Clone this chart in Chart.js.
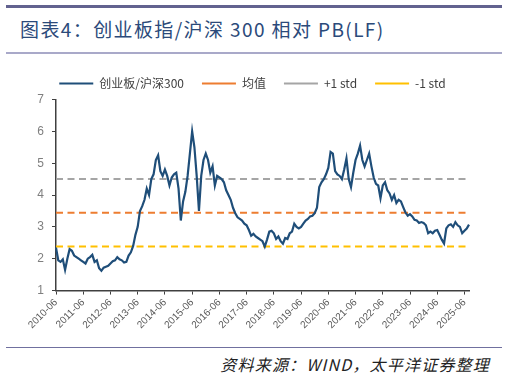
<!DOCTYPE html>
<html>
<head>
<meta charset="utf-8">
<script src="https://cdn.jsdelivr.net/npm/chart.js@4.4.1/dist/chart.umd.min.js"></script>
<style>
  html, body { margin: 0; padding: 0; background: #fff; }
  #page { position: relative; width: 507px; height: 375px; overflow: hidden; font-family: 'Noto Sans CJK SC', sans-serif; }
  .rule-top { position: absolute; left: 6px; top: 5px; width: 496px; height: 2.5px; background: #62628f; }
  .title { position: absolute; left: 20px; top: 15px; font-size: 19px; color: #2b4a7a; letter-spacing: 1.4px; white-space: nowrap; }
  .rule-mid { position: absolute; left: 6px; top: 52px; width: 496px; height: 1.5px; background: #a9a9c9; }
  .rule-bot { position: absolute; left: 6px; top: 347px; width: 496px; height: 1px; background: #70709f; }
  .source { position: absolute; right: 17px; top: 352px; font-size: 16px; font-style: italic; color: #222; letter-spacing: 1.2px; white-space: nowrap; }
  #chart { position: absolute; left: 0; top: 55px; }
</style>
</head>
<body>
<div id="page">
  <div class="rule-top"></div>
  <div class="title">图表4：创业板指/沪深 300 相对 PB(LF)</div>
  <div class="rule-mid"></div>
  <canvas id="chart" width="507" height="288"></canvas>
  <div class="rule-bot"></div>
  <div class="source">资料来源：WIND，太平洋证券整理</div>
</div>
<script>
// ── Data ─────────────────────────────────────────
const START_YEAR = 2010, START_MONTH = 6, N_MONTHS = 183;   // 2010-06 .. 2025-08
const months = [];
for (let i = 0; i < N_MONTHS; i++) {
  const m = START_MONTH - 1 + i;
  months.push((START_YEAR + Math.floor(m / 12)) + '-' + String(m % 12 + 1).padStart(2, '0'));
}

// 创业板指 / 沪深300 relative PB, monthly, each row starts at June
const relPB = [
  2.35, 1.95, 1.90, 1.98, 1.65, 2.00, 2.30, 2.25, 2.10, 2.05, 2.00, 1.95, // 2010-06
  1.90, 1.85, 2.00, 2.05, 2.12, 1.90, 1.95, 1.70, 1.62, 1.72, 1.75, 1.78, // 2011-06
  1.85, 1.92, 1.95, 2.05, 1.98, 1.95, 1.88, 1.90, 2.10, 2.20, 2.40, 2.75, // 2012-06
  3.00, 3.50, 3.65, 3.85, 4.20, 4.00, 4.50, 4.65, 5.10, 5.25, 4.75, 4.60, // 2013-06
  4.80, 4.60, 4.30, 4.55, 4.65, 4.70, 4.20, 3.20, 3.80, 4.10, 4.60, 5.30, // 2014-06
  6.00, 5.50, 4.60, 3.50, 4.60, 5.10, 5.30, 5.10, 4.70, 4.90, 4.30, 4.60, // 2015-06
  4.55, 4.50, 4.40, 4.15, 4.00, 3.85, 3.60, 3.43, 3.30, 3.25, 3.20, 3.10, // 2016-06
  3.05, 2.90, 2.72, 2.78, 2.70, 2.65, 2.60, 2.55, 2.38, 2.60, 2.85, 2.88, // 2017-06
  2.80, 2.62, 2.70, 2.55, 2.47, 2.65, 2.62, 2.80, 2.85, 3.10, 3.00, 2.95, // 2018-06
  3.00, 3.10, 3.20, 3.25, 3.33, 3.35, 3.43, 3.60, 4.25, 4.40, 4.50, 4.65, // 2019-06
  4.85, 5.35, 5.30, 4.75, 4.65, 4.60, 4.50, 4.80, 5.15, 4.50, 4.25, 4.70, // 2020-06
  5.10, 5.30, 5.55, 5.10, 4.90, 5.10, 5.30, 4.90, 4.55, 4.35, 4.30, 3.90, // 2021-06
  4.30, 4.40, 4.15, 4.05, 3.85, 4.00, 3.75, 3.85, 3.80, 3.62, 3.45, 3.35, // 2022-06
  3.40, 3.33, 3.22, 3.20, 3.12, 3.15, 3.12, 3.05, 2.80, 2.85, 2.80, 2.88, // 2023-06
  2.90, 2.75, 2.60, 2.48, 2.95, 3.05, 3.08, 3.00, 3.15, 3.05, 3.00, 2.80, // 2024-06
  2.88, 2.95, 3.07                                                          // 2025-06
];

const MEAN = 3.44;
const PLUS_STD = 4.50;
const MINUS_STD = 2.38;

const seriesLabels = ['创业板/沪深300', '均值', '+1 std', '-1 std'];
const yTicks = [1, 2, 3, 4, 5, 6, 7];

const COLORS = {
  series: '#1f4e79',
  mean:   '#ed7d31',
  plus:   '#a5a5a5',
  minus:  '#ffc000',
  axis:   '#404040',
};

// ── Chart ────────────────────────────────────────
function flatLine(label, value, color) {
  return {
    label,
    data: [{ x: months[0], y: value }, { x: months[months.length - 1], y: value }],
    borderColor: color,
    backgroundColor: color,
    borderWidth: 2,
    borderDash: [7, 4.5],
    pointRadius: 0,
    fill: false,
  };
}

function initChart() {
  const ctx = document.getElementById('chart');
  return new Chart(ctx, {
    type: 'line',
    data: {
      labels: months,
      datasets: [
        {
          label: seriesLabels[0],
          data: relPB,
          borderColor: COLORS.series,
          backgroundColor: COLORS.series,
          borderWidth: 2.2,
          pointRadius: 0,
          tension: 0,
          fill: false,
        },
        flatLine(seriesLabels[1], MEAN, COLORS.mean),
        flatLine(seriesLabels[2], PLUS_STD, COLORS.plus),
        flatLine(seriesLabels[3], MINUS_STD, COLORS.minus),
      ]
    },
    options: {
      responsive: false,
      animation: false,
      layout: { padding: { left: 36, right: 38, top: 4.5, bottom: 10 } },
      plugins: {
        tooltip: { enabled: false },
        legend: {
          position: 'top',
          align: 'center',
          labels: {
            usePointStyle: true,
            pointStyle: 'line',
            pointStyleWidth: 34,
            padding: 18,
            color: '#404040',
            font: { size: 12, family: "'Noto Sans CJK SC', sans-serif" }
          }
        }
      },
      scales: {
        x: {
          type: 'category',
          offset: false,
          grid: { drawOnChartArea: false, tickLength: 4, color: COLORS.axis },
          border: { color: COLORS.axis, width: 1.5 },
          ticks: {
            autoSkip: false,
            minRotation: 45,
            maxRotation: 45,
            padding: 2,
            color: '#595959',
            font: { size: 10, family: "'Liberation Sans', sans-serif" },
            callback(v) {
              const l = this.getLabelForValue(v);
              return l.endsWith('-06') ? l : null;
            }
          }
        },
        y: {
          min: yTicks[0],
          max: yTicks[yTicks.length - 1],
          afterBuildTicks: axis => { axis.ticks = yTicks.map(v => ({ value: v })); },
          afterFit: axis => { axis.width = 20; },
          grid: { drawOnChartArea: false, tickLength: 4, color: COLORS.axis },
          border: { color: COLORS.axis, width: 1.5 },
          ticks: {
            padding: 8,
            color: '#7f7f7f',
            font: { size: 12, family: "'Liberation Sans', sans-serif" }
          }
        }
      }
    }
  });
}

initChart();
</script>
</body>
</html>
